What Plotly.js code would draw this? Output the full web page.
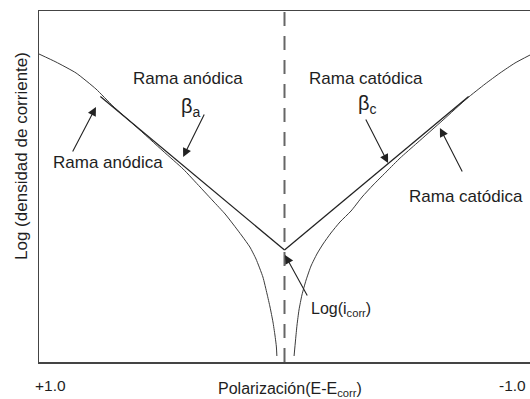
<!DOCTYPE html>
<html>
<head>
<meta charset="utf-8">
<script src="https://cdn.plot.ly/plotly-3.0.1.min.js"></script>
<style>
html,body{margin:0;padding:0;background:#ffffff;}
#chart{width:530px;height:399px;}
</style>
</head>
<body>
<div id="chart"></div>
<script>
// Polarization (E - Ecorr), +1.0 on the left, -1.0 on the right; y = log(current density), arbitrary units
const anodicCurveX = [1.000, 0.931, 0.849, 0.768, 0.699, 0.605, 0.495, 0.413, 0.344, 0.291, 0.242, 0.210, 0.173, 0.141, 0.116, 0.088, 0.071, 0.059, 0.047, 0.039, 0.033, 0.031];
const anodicCurveY = [8.775, 8.547, 8.234, 7.778, 7.293, 6.709, 6.011, 5.499, 4.986, 4.587, 4.217, 3.932, 3.590, 3.276, 2.934, 2.422, 1.937, 1.567, 1.140, 0.769, 0.427, 0.171];
const cathodicCurveX = [-0.039, -0.045, -0.051, -0.059, -0.071, -0.088, -0.108, -0.132, -0.157, -0.189, -0.226, -0.271, -0.316, -0.361, -0.418, -0.471, -0.540, -0.646, -0.743, -0.817, -0.878, -0.939, -1.000];
const cathodicCurveY = [0.171, 0.627, 1.054, 1.481, 1.909, 2.336, 2.735, 3.077, 3.362, 3.675, 3.989, 4.302, 4.701, 5.043, 5.442, 5.812, 6.239, 6.895, 7.507, 7.920, 8.234, 8.519, 8.746];
const anodicTafelX = [0.75, 0.0];
const anodicTafelY = [7.567, 3.191];
const cathodicTafelX = [0.0, -0.75];
const cathodicTafelY = [3.191, 7.567];
const ecorrX = [0, 0];
const ecorrY = [0, 10];
const tickValues = [1.0, -1.0];
const tickLabels = ['+1.0', '-1.0'];
const branchLabels = ['Rama anódica', 'Rama anódica', 'Rama catódica', 'Rama catódica'];
const slopeLabels = ['β<sub>a</sub>', 'β<sub>c</sub>'];
const icorrLabel = 'Log(i<sub>corr</sub>)';
const xTitle = 'Polarización(E-E<sub>corr</sub>)';
const yTitle = 'Log (densidad de corriente)';

const FONT = 'Liberation Sans, Arial, Helvetica, sans-serif';
const TXT = '#1e1e1e';

const traces = [
  {x: ecorrX, y: ecorrY, mode: 'lines', line: {color: '#666666', width: 2, dash: '14px,10px'}, hoverinfo: 'skip'},
  {x: anodicCurveX, y: anodicCurveY, mode: 'lines', line: {color: '#3a3a3a', width: 1, shape: 'spline', smoothing: 0.5}},
  {x: cathodicCurveX, y: cathodicCurveY, mode: 'lines', line: {color: '#3a3a3a', width: 1, shape: 'spline', smoothing: 0.5}},
  {x: anodicTafelX, y: anodicTafelY, mode: 'lines', line: {color: '#222222', width: 1.3}},
  {x: cathodicTafelX, y: cathodicTafelY, mode: 'lines', line: {color: '#222222', width: 1.3}}
];

function txt(x, y, text, extra) {
  return Object.assign({x: x, y: y, xref: 'x', yref: 'y', text: text, showarrow: false,
    font: {family: FONT, size: 17, color: TXT}, xanchor: 'center', yanchor: 'middle'}, extra || {});
}
function arrow(hx, hy, tx, ty) {
  return {x: hx, y: hy, ax: tx, ay: ty, xref: 'x', yref: 'y', axref: 'x', ayref: 'y', text: '',
    showarrow: true, arrowhead: 2, arrowsize: 1.6, arrowwidth: 1.1, arrowcolor: '#222222', standoff: 0};
}

const annotations = [
  txt(0.393, 8.091, branchLabels[0]),
  txt(0.381, 7.250, slopeLabels[0], {font: {family: FONT, size: 20, color: TXT}}),
  txt(0.719, 5.670, branchLabels[1]),
  txt(-0.332, 8.091, branchLabels[2]),
  txt(-0.340, 7.330, slopeLabels[1], {font: {family: FONT, size: 20, color: TXT}}),
  txt(-0.739, 4.729, branchLabels[3]),
  txt(-0.100, 1.500, icorrLabel, {xanchor: 'left', font: {family: FONT, size: 16, color: TXT}}),
  txt(tickValues[0], -0.068, tickLabels[0], {yref: 'paper', xanchor: 'left', xshift: -6, font: {family: FONT, size: 15.5, color: TXT}}),
  txt(tickValues[1], -0.068, tickLabels[1], {yref: 'paper', xanchor: 'right', xshift: -2, font: {family: FONT, size: 15.5, color: TXT}}),
  {x: 0.511, y: -0.047, xref: 'paper', yref: 'paper', text: xTitle, showarrow: false,
   font: {family: FONT, size: 16, color: TXT}, xanchor: 'center', yanchor: 'top'},
  {x: -0.0346, y: 0.587, xref: 'paper', yref: 'paper', text: yTitle, showarrow: false, textangle: -90,
   font: {family: FONT, size: 17, color: TXT}, xanchor: 'center', yanchor: 'middle'},
  arrow(0.768, 7.265, 0.866, 5.954),
  arrow(0.413, 5.840, 0.324, 7.094),
  arrow(-0.422, 5.670, -0.328, 6.952),
  arrow(-0.633, 6.667, -0.727, 5.385),
  arrow(-0.002, 3.048, -0.096, 1.852)
];

const layout = {
  width: 530, height: 399,
  margin: {l: 39, r: 0, t: 11, b: 37, pad: 0},
  paper_bgcolor: '#ffffff', plot_bgcolor: '#ffffff',
  showlegend: false,
  font: {family: FONT, size: 17, color: TXT},
  xaxis: {range: [1, -1], showgrid: false, zeroline: false, showticklabels: false, ticks: '',
          showline: true, linecolor: '#444444', linewidth: 1.5, mirror: true, fixedrange: true},
  yaxis: {range: [0, 10], showgrid: false, zeroline: false, showticklabels: false, ticks: '',
          showline: true, linecolor: '#444444', linewidth: 1.5, mirror: false, fixedrange: true},
  annotations: annotations
};

Plotly.newPlot('chart', traces, layout, {displayModeBar: false, staticPlot: true});
</script>
</body>
</html>
